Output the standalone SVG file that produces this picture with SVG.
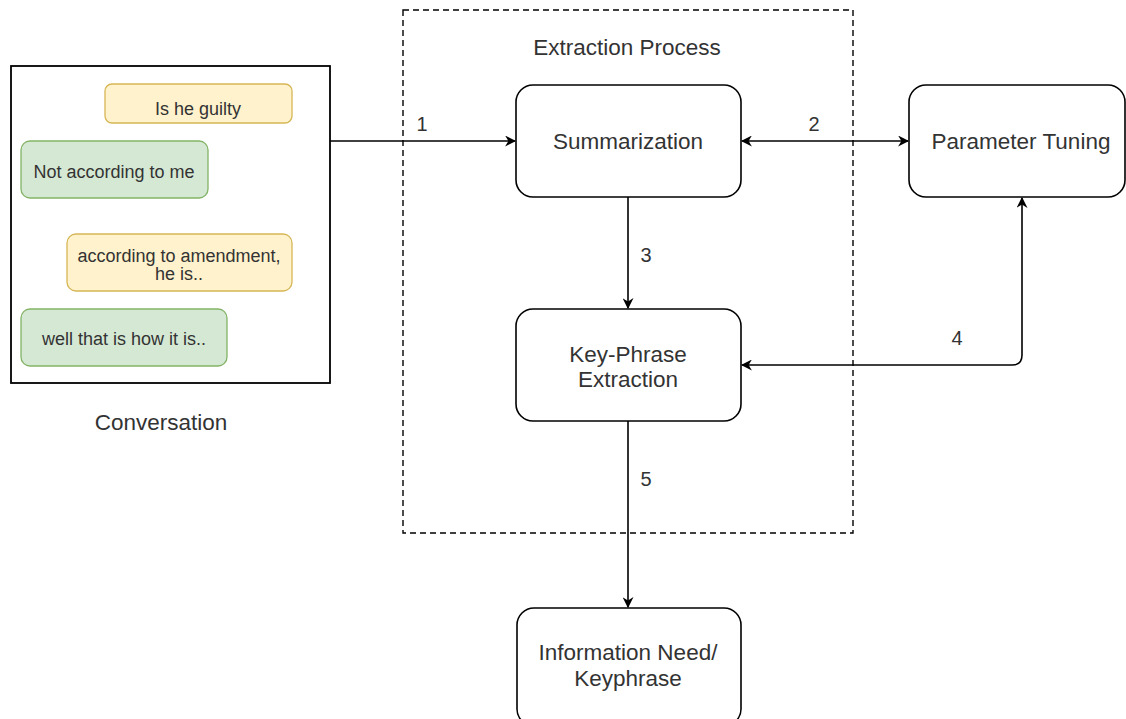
<svg xmlns="http://www.w3.org/2000/svg" width="1126" height="719" viewBox="0 0 1126 719">
<style>
text{font-family:"Liberation Sans",Arial,Helvetica,sans-serif;fill:#333;text-anchor:middle}
.node{fill:#fff;stroke:#000;stroke-width:1.6}
.t{font-size:22.5px}
.b{font-size:18px}
.lbl{font-size:20px}
.yb{fill:#fff2cc;stroke:#d6b656;stroke-width:1.3}
.gb{fill:#d5e8d4;stroke:#82b366;stroke-width:1.3}
.edge{fill:none;stroke:#000;stroke-width:1.6}
</style>
<defs>
<marker id="ah" viewBox="0 0 10 10" refX="9" refY="5" markerWidth="11" markerHeight="11" markerUnits="userSpaceOnUse" orient="auto-start-reverse">
<path d="M0,0 L10,5 L0,10 L3,5 Z" fill="#000"/>
</marker>
</defs>
<rect width="1126" height="719" fill="#fff"/>
<g id="extraction-process">
<rect x="403" y="10" width="450" height="523" fill="none" stroke="#000" stroke-width="1.4" stroke-dasharray="6,4"/>
<text class="t" x="627" y="55">Extraction Process</text>
</g>
<g id="conversation">
<rect x="11" y="66" width="319" height="317" fill="#fff" stroke="#000" stroke-width="1.8"/>
<rect class="yb" x="105" y="84" width="187" height="39" rx="7"/>
<text class="b" x="198" y="115">Is he guilty</text>
<rect class="gb" x="21" y="141" width="187" height="57" rx="9"/>
<text class="b" x="114" y="178">Not according to me</text>
<rect class="yb" x="67" y="234" width="225" height="57" rx="9"/>
<text class="b" x="179" y="262">according to amendment,</text>
<text class="b" x="179" y="280">he is..</text>
<rect class="gb" x="21" y="309" width="206" height="57" rx="9"/>
<text class="b" x="124" y="345">well that is how it is..</text>
<text class="t" x="161" y="430">Conversation</text>
</g>
<g id="summarization">
<rect class="node" x="516" y="85" width="225" height="112" rx="17"/>
<text class="t" x="628" y="149">Summarization</text>
</g>
<g id="parameter-tuning">
<rect class="node" x="909" y="85" width="216" height="112" rx="17"/>
<text class="t" x="1021" y="149">Parameter Tuning</text>
</g>
<g id="key-phrase-extraction">
<rect class="node" x="516" y="309" width="225" height="112" rx="17"/>
<text class="t" x="628" y="362">Key-Phrase</text>
<text class="t" x="628" y="387">Extraction</text>
</g>
<g id="information-need">
<rect class="node" x="517" y="608" width="224" height="118" rx="17"/>
<text class="t" x="628" y="660">Information Need/</text>
<text class="t" x="628" y="686">Keyphrase</text>
</g>
<g id="connectors">
<path class="edge" d="M330,141 L515,141" marker-end="url(#ah)"/>
<text class="lbl" x="422" y="131">1</text>
<path class="edge" d="M742,141 L908,141" marker-start="url(#ah)" marker-end="url(#ah)"/>
<text class="lbl" x="814" y="131">2</text>
<path class="edge" d="M628,197 L628,308" marker-end="url(#ah)"/>
<text class="lbl" x="646" y="262">3</text>
<path class="edge" d="M1022,198 L1022,355 Q1022,365 1012,365 L742,365" marker-start="url(#ah)" marker-end="url(#ah)"/>
<text class="lbl" x="957" y="345">4</text>
<path class="edge" d="M628,421 L628,607" marker-end="url(#ah)"/>
<text class="lbl" x="646" y="486">5</text>
</g>
</svg>
